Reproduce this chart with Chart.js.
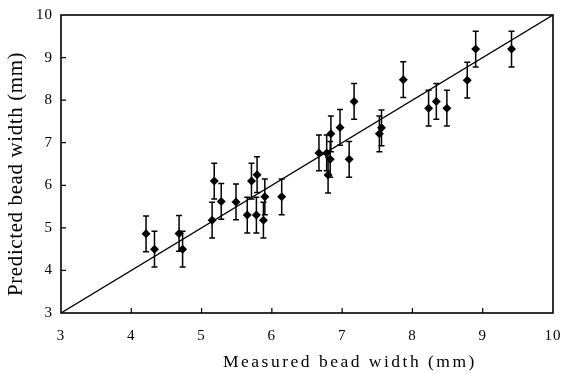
<!DOCTYPE html>
<html><head><meta charset="utf-8">
<script src="https://cdn.jsdelivr.net/npm/chart.js@4/dist/chart.umd.min.js"></script>
<style>html,body{margin:0;padding:0;background:#fff;}</style>
</head><body>
<canvas id="c" width="564" height="374" style="width:564px;height:374px;display:block"></canvas>
<script>
// Data
const measured  = [4.21,4.33,4.68,4.73,5.15,5.18,5.28,5.49,5.65,5.71,5.78,5.79,5.88,5.90,6.14,6.67,6.78,6.80,6.83,6.84,6.97,7.10,7.17,7.53,7.56,7.87,8.23,8.34,8.49,8.78,8.90,9.41];
const predicted = [4.86,4.50,4.87,4.50,5.18,6.10,5.62,5.61,5.30,6.10,5.30,6.25,5.18,5.73,5.73,6.76,6.76,6.24,6.61,7.21,7.36,6.61,7.97,7.21,7.35,8.48,7.81,7.97,7.81,8.47,9.20,9.20];
const errors    = [0.42,0.42,0.42,0.42,0.42,0.42,0.42,0.42,0.42,0.42,0.42,0.42,0.42,0.42,0.42,0.42,0.42,0.42,0.42,0.42,0.42,0.42,0.42,0.42,0.42,0.42,0.42,0.42,0.42,0.42,0.42,0.42];
const refLineX  = [3, 10];
const refLineY  = [3, 10];
const axisMin = 3, axisMax = 10, tickStep = 1;
const xTitle = 'Measured bead width (mm)';
const yTitle = 'Predicted bead width (mm)';

const FONT = '"Liberation Serif", "DejaVu Serif", serif';

const decor = {
  id: 'decor',
  beforeDraw(chart) {
    chart.ctx.letterSpacing = '1px';
  },
  beforeDatasetsDraw(chart) {
    const {ctx, scales:{x, y}} = chart;
    ctx.save();
    ctx.strokeStyle = '#000';
    ctx.lineWidth = 1.5;
    const cap = 3;
    for (let i = 0; i < measured.length; i++) {
      const px = x.getPixelForValue(measured[i]);
      const pt = y.getPixelForValue(predicted[i] + errors[i]);
      const pb = y.getPixelForValue(predicted[i] - errors[i]);
      ctx.beginPath();
      ctx.moveTo(px, pt); ctx.lineTo(px, pb);
      ctx.moveTo(px - cap, pt); ctx.lineTo(px + cap, pt);
      ctx.moveTo(px - cap, pb); ctx.lineTo(px + cap, pb);
      ctx.stroke();
    }
    ctx.restore();
  },
  afterDraw(chart) {
    const {ctx, chartArea:a, scales:{x, y}} = chart;
    ctx.save();
    ctx.strokeStyle = '#000';
    ctx.lineWidth = 1.6;
    ctx.strokeRect(a.left, a.top, a.right - a.left, a.bottom - a.top);
    ctx.lineWidth = 1.2;
    ctx.beginPath();
    x.ticks.forEach(t => {
      if (t.value <= axisMin || t.value >= axisMax) return;
      const p = x.getPixelForValue(t.value);
      ctx.moveTo(p, a.bottom); ctx.lineTo(p, a.bottom - 5);
    });
    y.ticks.forEach(t => {
      if (t.value <= axisMin || t.value >= axisMax) return;
      const p = y.getPixelForValue(t.value);
      ctx.moveTo(a.left, p); ctx.lineTo(a.left + 5, p);
    });
    ctx.stroke();
    ctx.fillStyle = '#000';
    ctx.textAlign = 'left';
    ctx.textBaseline = 'alphabetic';
    ctx.font = '17.5px ' + FONT;
    ctx.letterSpacing = '2.5px';
    ctx.fillText(xTitle, 223, 367);
    ctx.translate(22, 296);
    ctx.rotate(-Math.PI / 2);
    ctx.font = '21px ' + FONT;
    ctx.letterSpacing = '0.6px';
    ctx.fillText(yTitle, 0, 0);
    ctx.restore();
  }
};

new Chart(document.getElementById('c'), {
  data: {
    datasets: [
      {
        type: 'line',
        data: refLineX.map((v, i) => ({x: v, y: refLineY[i]})),
        borderColor: '#000',
        borderWidth: 1.3,
        pointRadius: 0,
        fill: false,
        tension: 0
      },
      {
        type: 'scatter',
        data: measured.map((v, i) => ({x: v, y: predicted[i]})),
        pointStyle: 'rectRot',
        pointRadius: 4.5,
        backgroundColor: '#000',
        borderColor: '#000',
        borderWidth: 0
      }
    ]
  },
  plugins: [decor],
  options: {
    responsive: false,
    animation: false,
    devicePixelRatio: 1,
    layout: {padding: {top: 15, right: 11, left: 0, bottom: 0}},
    plugins: {legend: {display: false}, tooltip: {enabled: false}},
    scales: {
      x: {
        type: 'linear', min: axisMin, max: axisMax,
        ticks: {stepSize: tickStep, color: '#000', padding: 14, font: {family: FONT, size: 15}},
        grid: {display: false, drawTicks: false},
        border: {display: false},
        afterFit(s) { s.height = 61; s.paddingLeft = 0; s.paddingRight = 0; }
      },
      y: {
        type: 'linear', min: axisMin, max: axisMax,
        ticks: {stepSize: tickStep, color: '#000', padding: 8, font: {family: FONT, size: 15}},
        grid: {display: false, drawTicks: false},
        border: {display: false},
        afterFit(s) { s.width = 61; s.paddingTop = 0; s.paddingBottom = 0; }
      }
    }
  }
});
</script>
</body></html>
